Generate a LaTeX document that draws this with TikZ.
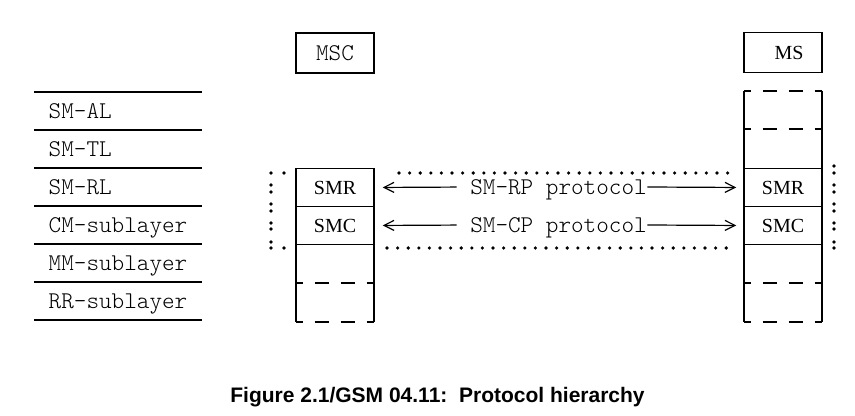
\documentclass[tikz,border=0pt]{standalone}
\usepackage{fontspec}
\setmainfont{Liberation Serif}
\setsansfont{Liberation Sans}
\setmonofont{Latin Modern Mono Light}
\usetikzlibrary{arrows.meta}

\tikzset{
  layer/.style={anchor=west,inner sep=0pt,font=\fontsize{12}{14}\ttfamily,
    text height=7.2pt,text depth=0pt},
  entity/.style={draw,fill=white,minimum width=39pt,minimum height=20pt,
    inner sep=0pt},
  cell/.style={draw,fill=white,minimum width=39pt,minimum height=19pt,
    inner sep=0pt,font=\fontsize{10}{12}\selectfont,text height=6.6pt,text depth=0pt},
  proto/.style={-{Straight Barb[length=5pt,width=5pt]},line width=0.6pt},
  halfdash/.style={dash pattern=on 7pt off 6pt,dash phase=3.75pt},
  dotrow/.style={line width=1.8pt,line cap=round,dash pattern=on 0pt off 5.3pt}
}

\begin{document}
\begin{tikzpicture}[x=0.5pt,y=-0.5pt,line width=0.7pt]
  \useasboundingbox (0,0) rectangle (855,416);

  \foreach \y in {92,130,168,206,244,282,320}
    \draw (34,\y) -- (202,\y);
  \node[layer] (al) at (48,111) {SM-AL};
  \node[layer] (tl) at (48,149) {SM-TL};
  \node[layer] (rl) at (48,187) {SM-RL};
  \node[layer] (cm) at (48,225) {CM-sublayer};
  \node[layer] (mm) at (48,263) {MM-sublayer};
  \node[layer] (rr) at (48,301) {RR-sublayer};

  \draw[dotrow] (399,173) -- (733,173);
  \draw[dotrow] (387,248) -- (733,248);
  \foreach \y in {173,185,192,204,211,223,229,242,248}
    \fill (271,\y) circle (0.9pt);
  \fill (284,173) circle (0.9pt); \fill (284,248) circle (0.9pt);
  \foreach \y in {166,173,185,192,204,211,223,229,242,248}
    \fill (834,\y) circle (0.9pt);

  \node[entity,font=\fontsize{12}{14}\ttfamily,text height=7.2pt,text depth=0pt]
    (msc) at (335,53) {MSC};
  \node[entity,font=\fontsize{10}{12}\selectfont,text height=6.6pt,text depth=0pt]
    (ms) at (783,52.5) {\hspace*{6pt}MS};

  \draw (296,244) -- (296,322); \draw (374,244) -- (374,322);
  \draw[halfdash] (296,283) -- (374,283); \draw[halfdash] (296,322) -- (374,322);
  \node[cell] (msc smr) at (335,187.5) {SMR};
  \node[cell] (msc smc) at (335,225.5) {SMC};

  \draw (744,91) -- (744,322); \draw (822,91) -- (822,322);
  \draw[halfdash] (744,91) -- (822,91); \draw[halfdash] (744,129) -- (822,129);
  \draw[halfdash] (744,283) -- (822,283); \draw[halfdash] (744,322) -- (822,322);
  \node[cell] (ms smr) at (783,187.5) {SMR};
  \node[cell] (ms smc) at (783,225.5) {SMC};

  \node[layer,anchor=center] (rp) at (558.5,187) {SM-RP protocol};
  \node[layer,anchor=center] (cp) at (558.5,225) {SM-CP protocol};
  \draw[proto,shorten <=6.5pt,shorten >=4pt] (rp.west) -- (msc smr.east);
  \draw[proto,shorten >=3.5pt] (rp.east) -- (ms smr.west);
  \draw[proto,shorten <=6.5pt,shorten >=4pt] (cp.west) -- (msc smc.east);
  \draw[proto,shorten >=3.5pt] (cp.east) -- (ms smc.west);

  \node[font=\fontsize{10.5}{12}\sffamily\bfseries,text height=7.5pt,text depth=0pt]
    (caption) at (437.5,394.5) {Figure 2.1/GSM 04.11:\ \ Protocol hierarchy};
\end{tikzpicture}
\end{document}
